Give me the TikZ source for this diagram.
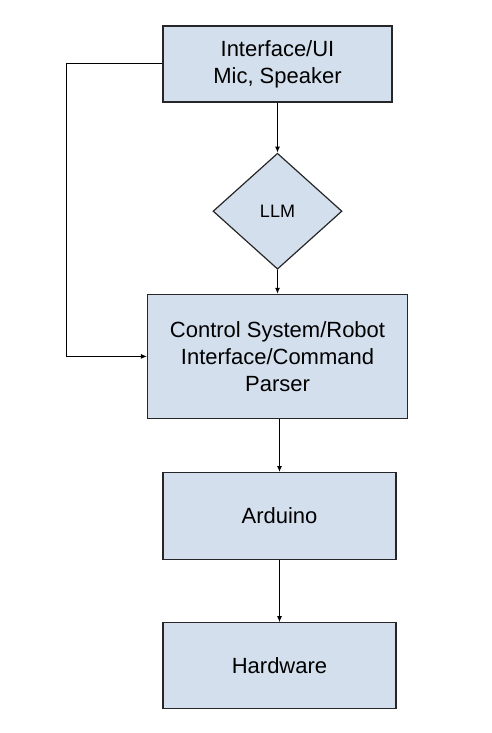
\documentclass[tikz,border=0pt]{standalone}
\usepackage{fontspec}
\setmainfont{Liberation Sans}
\usetikzlibrary{arrows.meta,calc,positioning,shapes.geometric}
\definecolor{boxblue}{RGB}{212,223,238}
\tikzset{
boxstyle/.style={
  rectangle,
  line width=1.2pt,
  inner sep=0pt,
  align=center,
  draw=black!85,
  fill=boxblue,
  font=\fontsize{22}{27}\selectfont,
  }
}
\tikzset{
diastyle/.style={
  diamond,
  line width=1.2pt,
  inner sep=0pt,
  align=center,
  draw=black!85,
  fill=boxblue,
  font=\fontsize{18}{22}\selectfont,
  }
}
\tikzset{
myline/.style={
  line width=1pt,
  -{Latex[length=6pt,width=5pt]}
  }
}

\begin{document}
\begin{tikzpicture}
    \useasboundingbox (0,0) rectangle (492pt,-733pt);

    % boxes
    \node[boxstyle, minimum width=229pt, minimum height=76pt] (ui) at (277.5pt,-64pt) {Interface/UI\\Mic, Speaker};
    \node[diastyle, minimum width=129pt, minimum height=116pt, below=50pt of ui] (llm) {LLM};
    \node[boxstyle, minimum width=260pt, minimum height=124pt, below=24pt of llm] (ctrl) {Control System/Robot\\Interface/Command\\Parser};
    \node[boxstyle, minimum width=233pt, minimum height=87pt, below=53pt of ctrl, xshift=2pt] (ard) {Arduino};
    \node[boxstyle, minimum width=233pt, minimum height=86pt, below=62pt of ard] (hw) {Hardware};

    % side path
    \coordinate (side) at ($(ctrl.west)+(-80pt,0)$);

    % edges
    \draw[myline] (ui) -- (llm);
    \draw[myline] (llm) -- (ctrl);
    \draw[myline] (ctrl.south -| ard.north) -- (ard);
    \draw[myline] (ard) -- (hw);
    \draw[myline] (ui.west) -| (side) -- (ctrl.west);
\end{tikzpicture}
\end{document}
